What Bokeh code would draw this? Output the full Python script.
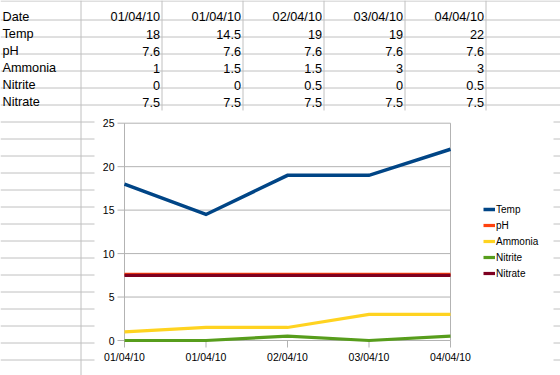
import math
from bokeh.plotting import figure
from bokeh.models import Range1d, ColumnDataSource, Legend, LegendItem
from bokeh.core.properties import value
from bokeh.embed import file_html
from bokeh.resources import INLINE

# ---------------- data ----------------
dates = ["01/04/10", "01/04/10", "02/04/10", "03/04/10", "04/04/10"]
series_names = ["Temp", "pH", "Ammonia", "Nitrite", "Nitrate"]
temp = [18, 14.5, 19, 19, 22]
ph = [7.6, 7.6, 7.6, 7.6, 7.6]
ammonia = [1, 1.5, 1.5, 3, 3]
nitrite = [0, 0, 0.5, 0, 0.5]
nitrate = [7.5, 7.5, 7.5, 7.5, 7.5]
y_ticks = [0, 5, 10, 15, 20, 25]
series_values = [temp, ph, ammonia, nitrite, nitrate]
colors = ["#004586", "#ff420e", "#ffd320", "#579d1c", "#7e0021"]

# ---------------- layout ----------------
W, H = 560, 375
PL, PR, PT, PB = 124, 450, 122.7, 340      # chart plot area (pixels)
ROW0, ROWH, NROWS = 2.5, 17, 22            # spreadsheet rows
COL0, COLW, NCOLS = 80.5, 81, 6            # spreadsheet columns
CH_L, CH_R, CH_T = 94, 553, 110            # chart object box
FONT_NAME = "Liberation Sans"
FONT = value(FONT_NAME)
GRID = "#c0c0c0"
CGRID = "#b3b3b3"

idx = list(range(len(dates)))
sx = (PR - PL) / (len(dates) - 1)
ymax = y_ticks[-1]
sy = (PB - PT) / ymax
x0 = -PL / sx
y0 = -(H - PB) / sy

p = figure(width=W, height=H, output_backend="svg", toolbar_location=None,
           x_range=Range1d(x0, x0 + W / sx), y_range=Range1d(y0, y0 + H / sy),
           min_border=0, outline_line_color=None,
           x_axis_location=None, y_axis_location=None)
p.xgrid.visible = False
p.ygrid.visible = False
p.extra_x_ranges = {"px": Range1d(0, W)}
p.extra_y_ranges = {"py": Range1d(H, 0)}
P = dict(x_range_name="px", y_range_name="py")

# ---------------- spreadsheet ----------------
rows_y = [0.5] + [ROW0 + ROWH * k for k in range(1, NROWS)]
cols_x = [COL0 + COLW * k for k in range(NCOLS)]
p.segment(x0=[0] * NROWS, x1=[W] * NROWS, y0=rows_y, y1=rows_y,
          line_color=GRID, line_width=1, **P)
p.segment(x0=cols_x, x1=cols_x, y0=[0] * NCOLS, y1=[H] * NCOLS,
          line_color=GRID, line_width=1, **P)

labels = ["Date"] + series_names
lab_y = [ROW0 + ROWH * k + 14 for k in range(len(labels))]
p.text(x=[2] * len(labels), y=lab_y, text=labels, text_font=FONT,
       text_font_size="12.7px", text_color="#000", text_align="left",
       text_baseline="alphabetic", **P)

cx, cy, ct = [], [], []
for j, d in enumerate(dates):
    colx = COL0 + COLW * (j + 1) - 2
    cells = [d] + [f"{s[j]:g}" for s in series_values]
    for k, c in enumerate(cells):
        cx.append(colx)
        cy.append(ROW0 + ROWH * k + 14)
        ct.append(c)
p.text(x=cx, y=cy, text=ct, text_font=FONT, text_font_size="12.7px",
       text_color="#000", text_align="right", text_baseline="alphabetic", **P)

# chart object background
p.quad(left=[CH_L], right=[CH_R], top=[CH_T], bottom=[H + 5],
       fill_color="white", line_color=None, **P)

# ---------------- chart ----------------
n = len(y_ticks)
p.segment(x0=[0] * n, x1=[idx[-1]] * n, y0=y_ticks, y1=y_ticks,
          line_color=CGRID, line_width=1)
p.segment(x0=[0, idx[-1]], x1=[0, idx[-1]], y0=[0, 0], y1=[ymax, ymax],
          line_color=CGRID, line_width=1)
p.ray(x=[0] * n, y=y_ticks, length=7, length_units="screen", angle=math.pi,
      line_color=CGRID, line_width=1)
p.ray(x=idx, y=[0] * len(idx), length=7, length_units="screen",
      angle=-math.pi / 2, line_color=CGRID, line_width=1)

p.text(x=[0] * n, y=y_ticks, text=[str(t) for t in y_ticks], x_offset=-10,
       text_font=FONT, text_font_size="10.5px", text_color="#000",
       text_align="right", text_baseline="middle")
p.text(x=idx, y=[0] * len(idx), text=dates, y_offset=10,
       text_font=FONT, text_font_size="10.5px", text_color="#000",
       text_align="center", text_baseline="top")

items = []
for name, vals, col in zip(series_names, series_values, colors):
    w = 3.5 if name == "Temp" else 3.2
    r = p.line(x=idx, y=vals, line_color=col, line_width=w, line_join="miter")
    items.append(LegendItem(label=name, renderers=[r]))

legend = Legend(items=items, location=(483, 94),
                padding=0, spacing=0, margin=0,
                glyph_width=12, glyph_height=16, label_height=16,
                label_standoff=1, label_text_font=FONT_NAME,
                label_text_font_size="10px", label_text_color="#000",
                border_line_alpha=0, background_fill_alpha=0)
p.add_layout(legend)

open("out.html", "w").write(file_html(p, INLINE))
